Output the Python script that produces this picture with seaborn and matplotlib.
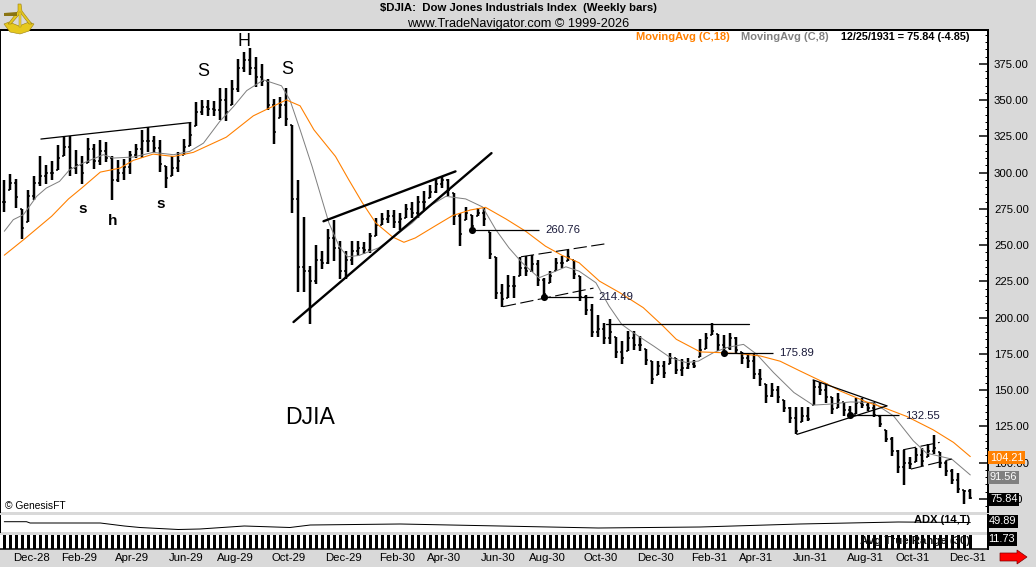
import numpy as np
import pandas as pd
import matplotlib
matplotlib.use('Agg')
import matplotlib.pyplot as plt
from matplotlib.patches import Polygon
from matplotlib.ticker import MultipleLocator, NullLocator
from matplotlib.transforms import ScaledTranslation
import seaborn as sns

# --------------------------
# Weekly bars
# --------------------------
highs = [
    295.2, 299.3, 295.6, 275.0, 287.8, 297.5, 311.7, 305.0, 308.0, 319.0,
    324.5, 325.4, 315.8, 311.2, 323.9, 320.0, 322.3, 321.3, 311.7, 308.5,
    309.4, 314.7, 320.0, 329.1, 331.4, 325.4, 322.7, 304.4, 311.2, 314.0,
    323.2, 334.6, 348.9, 349.8, 349.8, 349.1, 358.3, 358.3, 364.0, 378.2,
    383.5, 385.8, 380.0, 374.8, 364.5, 350.7, 352.1, 358.3, 333.0, 295.2,
    269.5, 235.5, 250.4, 245.8, 261.3, 267.6, 252.7, 245.8, 252.7, 252.7,
    252.0, 258.5, 268.8, 272.3, 274.5, 274.5, 272.3, 278.7, 279.6, 284.2,
    287.1, 291.7, 296.4, 297.9, 295.7, 286.0, 272.3, 276.4, 271.1, 275.7,
    276.4, 258.9, 242.0, 222.9, 229.3, 228.6, 242.0, 242.4, 242.9, 240.1,
    227.5, 232.1, 241.3, 242.4, 246.5, 240.1, 228.6, 215.4, 209.2, 201.6,
    196.1, 198.8, 186.9, 183.9, 190.8, 190.8, 187.3, 178.2, 170.1, 170.1,
    170.1, 175.4, 172.5, 171.8, 172.5, 170.8, 185.6, 189.7, 196.6, 188.5,
    187.8, 189.2, 186.9, 176.4, 174.8, 174.8, 164.4, 154.1, 154.8, 152.9,
    143.3, 138.1, 138.5, 138.5, 138.5, 157.1, 155.7, 155.3, 145.0, 147.9,
    141.9, 139.2, 144.5, 144.5, 141.9, 141.9, 131.9, 122.7, 117.4, 108.9,
    108.9, 104.1, 109.9, 109.9, 112.8, 119.0, 107.5, 101.3, 95.6, 92.7,
    81.4, 81.9,
]
lows = [
    272.7, 287.8, 275.7, 254.4, 265.8, 281.4, 291.0, 292.4, 295.2, 301.6,
    311.7, 297.5, 298.8, 292.4, 306.7, 302.5, 305.3, 307.1, 280.9, 293.3,
    295.2, 298.8, 310.1, 310.1, 314.0, 313.5, 300.2, 289.2, 297.9, 300.7,
    312.4, 318.6, 331.9, 339.9, 339.2, 339.2, 336.5, 335.3, 346.8, 355.3,
    369.7, 367.4, 359.4, 359.9, 342.9, 320.0, 337.6, 331.9, 272.2, 217.4,
    217.9, 195.4, 222.9, 233.7, 236.7, 239.4, 226.9, 226.4, 236.0, 242.4,
    243.6, 244.3, 256.2, 264.2, 265.4, 261.9, 260.8, 268.8, 268.8, 268.8,
    274.5, 282.6, 286.0, 289.5, 283.7, 264.2, 249.3, 267.6, 259.6, 269.9,
    263.0, 240.6, 213.1, 207.6, 213.8, 213.8, 228.6, 228.6, 231.4, 221.8,
    212.6, 224.1, 232.1, 234.4, 238.9, 226.4, 211.4, 201.6, 186.5, 186.5,
    181.6, 181.6, 172.5, 168.4, 177.0, 177.7, 177.0, 167.2, 154.6, 160.5,
    158.2, 167.9, 161.0, 159.8, 164.4, 165.6, 172.9, 178.2, 187.8, 177.0,
    174.8, 177.7, 175.4, 168.4, 165.6, 158.0, 152.9, 141.5, 145.0, 141.5,
    135.3, 127.3, 119.5, 127.8, 128.5, 139.7, 146.6, 141.5, 133.5, 137.4,
    132.3, 130.5, 133.5, 137.4, 135.7, 131.2, 124.3, 114.4, 104.8, 92.9,
    84.6, 95.6, 100.7, 97.9, 103.7, 105.9, 96.1, 90.6, 85.3, 78.9,
    71.5, 74.9,
]
closes = [
    280, 293, 283, 262, 284, 293, 298, 300, 300, 310,
    318, 303, 305, 300, 316, 308, 315, 310, 295, 300,
    304, 312, 316, 322, 322, 317, 306, 296, 303, 308,
    318, 326, 342, 345, 344, 343, 350, 342, 358, 372,
    378, 372, 366, 363, 347, 328, 347, 337, 282, 235,
    232, 225, 240, 238, 255, 248, 232, 240, 246, 248,
    247, 256, 264, 268, 270, 266, 268, 275, 272, 280,
    280, 287, 292, 295, 288, 270, 258, 272, 263, 272,
    268, 244, 217, 213, 222, 222, 234, 232, 237, 226,
    216, 229, 238, 238, 242, 230, 214, 205, 190, 192,
    186, 190, 176, 172, 186, 181, 181, 171, 158, 167,
    162, 172, 164, 165, 168, 167, 178, 186, 191, 181,
    179, 186, 178, 172, 170, 161, 158, 146, 150, 145,
    138, 131, 122, 132, 130, 152, 150, 145, 137, 143,
    136, 133, 141, 140, 138, 133, 127, 116, 108, 97,
    100, 99, 105, 101, 108, 110, 100, 94, 88, 82,
    80.69, 75.84,
]

# --------------------------
# Moving averages (week, value)
# --------------------------
ma18_weeks = [0, 3.4, 7.9, 10.7, 12.9, 16, 19.3, 21.5, 24.8, 28.2, 31.5, 37, 41.5, 47, 49.3,
              51.6, 55.2, 57.4, 59.7, 61.9, 64.7, 66.6, 68.5, 71.9, 74.7, 77.7, 80.2, 83.6,
              86.9, 90.2, 93, 95.8, 99.2, 102.6, 106.5, 109.8, 112, 116, 119.3, 122.6, 126,
              129.3, 132.6, 137, 139.3, 143.7, 146.5, 150.4, 154.8, 158.2, 161]
ma18_values = [243.1, 254.4, 270.0, 281.9, 289.4, 300.4, 303.2, 308.5, 312.8, 311.2, 314.0, 324.5,
               339.2, 350.2, 346.1, 329.6, 311.2, 295.2, 279.1, 265.4, 255.7, 252.0, 255.0, 263.5,
               270.4, 274.3, 276.1, 268.1, 259.6, 249.3, 242.9, 237.9, 225.2, 217.2, 206.9, 194.2,
               185.1, 176.4, 175.9, 175.2, 173.6, 170.0, 163.3, 154.6, 149.5, 141.9, 138.1, 131.9,
               122.7, 114.0, 104.21]
ma8_weeks = [0, 1.5, 3.2, 5.4, 7, 9.2, 10.9, 13.2, 16.5, 18.2, 21.5, 24.8, 28.2, 30.9, 33.2, 35.9,
             38.2, 40.4, 43.2, 46.2, 47.6, 49.3, 51.3, 54.1, 55.8, 57.2, 59.1, 62.4, 64.7, 68,
             70.8, 73.6, 76.9, 79.7, 81.9, 84.1, 86.3, 89.1, 91.9, 93.6, 95.8, 98.6, 100.8, 102.9,
             104.8, 108.2, 111, 113.7, 115.7, 118.2, 120.4, 123.2, 125.4, 128.2, 131.6, 134.8,
             137.6, 141, 144.8, 148.2, 151.5, 153.7, 157.9, 161]
ma8_values = [259.6, 267.6, 271.1, 283.7, 289.4, 294.0, 302.1, 306.7, 312.4, 310.1, 310.8, 314.0,
              312.4, 314.7, 320.4, 335.3, 345.6, 356.6, 364.0, 359.9, 350.2, 329.6, 304.3, 265.4,
              249.3, 242.0, 242.9, 248.2, 255.0, 265.4, 276.8, 283.7, 281.9, 276.4, 260.8, 248.2,
              237.9, 227.5, 232.1, 235.1, 232.1, 224.1, 208.0, 195.4, 189.7, 180.5, 172.5, 169.0,
              170.1, 175.9, 179.4, 181.6, 174.8, 162.2, 148.4, 139.7, 140.4, 141.9, 141.5, 132.3,
              115.1, 106.6, 102.5, 91.56]

# lower panels
adx_weeks = [0, 3.7, 4.3, 16, 20, 22.6, 29, 32.6, 40, 47.6, 51, 66, 82.6, 99, 116, 132.6, 149, 161]
adx_values = [51.6, 51.6, 49, 49, 43, 40, 36, 37, 43, 40, 45, 47, 43, 39, 41, 47, 51, 49.89]
atr_last = 11.73

# --------------------------
# Hand drawn studies on the chart (week, price)
# --------------------------
solid_lines = [
    ('neckline', [6.1, 31.1], [323.2, 334.6], 0.9),
    ('wedge_top', [53.2, 75.2], [266.5, 300.9], 1.7),
    ('wedge_bottom', [48.2, 81.2], [197.0, 313.5], 1.7),
    ('resistance', [100.3, 124.1], [195.9, 195.9], 0.9),
    ('triangle_top', [134.8, 147.1], [157.1, 139.2], 0.9),
    ('triangle_bottom', [132.1, 147.1], [119.5, 139.2], 0.9),
]
dashed_lines = [
    ('channel_top', [86.1, 100.1], [242.0, 250.9]),
    ('channel_bottom', [83.1, 98.2], [207.6, 220.4]),
    ('box_top', [149.8, 155.9], [108.9, 114.0]),
    ('box_bottom', [151.1, 157.9], [95.6, 102.5]),
]
pivot_weeks = [78, 90, 120, 141]
pivot_ends = [89.1, 98.1, 128.1, 149.2]
pivot_prices = [260.76, 214.49, 175.89, 132.55]

W, H = 1036, 567
DPI = 100
BG = '#d9d9d9'
ORANGE = '#ff8000'
GRAY = '#808080'
FONT = 'Liberation Sans'
TICK_SIZE = 8.2
TAG_SIZE = 7.9
PX = 72 / DPI  # one pixel in points


def px_box(left, top, right, bottom):
    return [left / W, 1 - bottom / H, (right - left) / W, (bottom - top) / H]


def px_text(fig, x, y, s, **kw):
    kw.setdefault('va', 'center')
    kw.setdefault('color', 'black')
    return fig.text(x / W, 1 - y / H, s, **kw)


def px_poly(fig, points, **kw):
    pts = [(x / W, 1 - y / H) for x, y in points]
    fig.add_artist(Polygon(pts, closed=True, transform=fig.transFigure, **kw))


def style_spines(ax, left=True, top=False, bottom=False):
    ax.spines['right'].set_visible(True)
    ax.spines['right'].set_linewidth(2 * PX)
    ax.spines['right'].set_color('black')
    for side, shown, width in [('left', left, 1), ('top', top, 2), ('bottom', bottom, 1.5)]:
        ax.spines[side].set_visible(shown)
        ax.spines[side].set_linewidth(width * PX)
        ax.spines[side].set_color('black')


# --------------------------
# Main price panel
# --------------------------
def draw_price_panel(ax):
    weeks = np.arange(len(highs))
    bars = pd.DataFrame({'week': np.r_[weeks, weeks], 'price': np.r_[lows, highs]})
    sns.lineplot(data=bars, x='week', y='price', units='week', estimator=None, color='black',
                 linewidth=2.5 * PX, solid_capstyle='butt', legend=False, ax=ax, zorder=3)

    opens = np.clip(np.r_[closes[0], closes[:-1]], lows, highs)
    ax.hlines(closes, weeks, weeks + 0.34, color='black', linewidth=1.5 * PX, zorder=3)
    ax.hlines(opens, weeks - 0.34, weeks, color='black', linewidth=1.5 * PX, zorder=3)

    sns.lineplot(x=ma8_weeks, y=ma8_values, color=GRAY, linewidth=1 * PX, estimator=None, ax=ax, zorder=4)
    sns.lineplot(x=ma18_weeks, y=ma18_values, color=ORANGE, linewidth=1.1 * PX, estimator=None, ax=ax, zorder=4)

    for name, xs, ys, width in solid_lines:
        ax.plot(xs, ys, color='black', linewidth=width, zorder=5)
    for name, xs, ys in dashed_lines:
        ax.plot(xs, ys, color='black', linewidth=0.8, linestyle=(0, (12, 4)), zorder=5)

    sns.scatterplot(x=pivot_weeks, y=pivot_prices, color='black', s=26, linewidth=0, ax=ax, zorder=6)
    ax.hlines(pivot_prices, pivot_weeks, pivot_ends, color='black', linewidth=0.9, zorder=5)

    ax.set_xlim(-4.3 / 6, (988 - 4.3) / 6)
    ax.set_ylim(66.0, 398.4)
    ax.set_xlabel('')
    ax.set_ylabel('')
    ax.xaxis.set_major_locator(NullLocator())
    ax.yaxis.tick_right()
    ax.yaxis.set_major_locator(MultipleLocator(25))
    ax.yaxis.set_minor_locator(MultipleLocator(5))
    ax.yaxis.set_major_formatter(lambda v, pos: f'{v:.2f}')
    ax.tick_params(axis='y', which='major', direction='in', length=9 * PX, width=1.5 * PX,
                   pad=6 * PX, labelsize=TICK_SIZE, labelcolor='black', color='black')
    ax.tick_params(axis='y', which='minor', direction='in', length=3.5 * PX, width=1 * PX, color='black')
    style_spines(ax, top=True)

    # last value tags, on the price scale
    trans = ax.get_yaxis_transform()
    for value, offset, face in [(ma18_values[-1], -0.8, ORANGE), (ma8_values[-1], -1.6, GRAY), (closes[-1], -1.0, 'black')]:
        ax.text(1.002, value + offset, f'{value:.2f}', transform=trans, va='center', ha='left', fontsize=TAG_SIZE,
                color='white', zorder=20, clip_on=False,
                bbox=dict(boxstyle='square,pad=0.14', facecolor=face, edgecolor='none'))


# --------------------------
# ADX and ATR strips
# --------------------------
def draw_lower_panels(ax_adx, ax_atr):
    sns.lineplot(x=adx_weeks, y=adx_values, color='black', linewidth=1 * PX, estimator=None, ax=ax_adx)
    ax_adx.set_ylim(31, 65)

    weeks = np.arange(len(highs))
    atr = pd.DataFrame({'week': weeks, 'atr': np.full(len(weeks), atr_last)})
    sns.barplot(data=atr, x='week', y='atr', native_scale=True, color='black', width=0.42,
                saturation=1, linewidth=0, ax=ax_atr)
    ax_atr.set_ylim(0, atr_last)

    dates = pd.date_range('1928-11-23', '1931-12-25', freq='7D')
    first_bars = [i for i, d in enumerate(dates) if d.day <= 7 and d.month % 2 == 0]
    ax_atr.set_xticks(first_bars)
    ax_atr.set_xticklabels([dates[i].strftime('%b-%y') for i in first_bars], ha='left', fontsize=TICK_SIZE, color='black')
    ax_atr.tick_params(axis='x', length=0, pad=3)
    shift = ScaledTranslation(-3 / DPI, 0, ax_atr.figure.dpi_scale_trans)
    for label in ax_atr.get_xticklabels():
        label.set_transform(label.get_transform() + shift)

    for ax in (ax_adx, ax_atr):
        ax.set_xlim(-4.3 / 6, (988 - 4.3) / 6)
        ax.set_xlabel('')
        ax.set_ylabel('')
        ax.yaxis.set_major_locator(NullLocator())
    ax_adx.xaxis.set_major_locator(NullLocator())
    style_spines(ax_adx)
    style_spines(ax_atr, left=False, bottom=True)


# --------------------------
# Header, notes, logo, arrow
# --------------------------
def draw_decorations(fig):
    px_text(fig, 518.5, 8, r'\$DJIA:  Dow Jones Industrials Index  (Weekly bars)', ha='center', fontsize=8.2, fontweight='bold')
    px_text(fig, 518.5, 24, 'www.TradeNavigator.com © 1999-2026', ha='center', fontsize=9.15)
    px_text(fig, 636, 37, 'MovingAvg (C,18)', color=ORANGE, fontsize=8, fontweight='bold')
    px_text(fig, 741, 37, 'MovingAvg (C,8)', color=GRAY, fontsize=8, fontweight='bold')
    px_text(fig, 841, 37, '12/25/1931 = 75.84 (-4.85)', fontsize=7.85, fontweight='bold')

    for x, y, s, size, weight in [(203, 72, 'S', 13, 'normal'), (244, 41, 'H', 13, 'normal'), (287, 70, 'S', 13, 'normal'),
                                  (83, 209, 's', 11, 'bold'), (113, 221, 'h', 11, 'bold'), (161, 204, 's', 11, 'bold'),
                                  (310, 417, 'DJIA', 16.6, 'normal')]:
        px_text(fig, x, y, s, ha='center', fontsize=size, fontweight=weight)
    px_text(fig, 5, 506, '© GenesisFT', fontsize=7.4)

    for x, y, s in [(545, 230, '260.76'), (598, 297, '214.49'), (779, 353, '175.89'), (905, 416, '132.55')]:
        px_text(fig, x, y, s, fontsize=TICK_SIZE, color='#1a1a3a')

    px_text(fig, 914, 520, 'ADX (14,T)', fontsize=8, fontweight='bold')
    px_text(fig, 970, 541, 'Avg True Range (30)', ha='right', fontsize=8.2, fontweight='bold', color='#111111')
    for x, y, s in [(988.5, 521.5, '49.89'), (988.5, 539, '11.73')]:
        px_text(fig, x, y, s, fontsize=TAG_SIZE, color='white', zorder=20,
                bbox=dict(boxstyle='square,pad=0.14', facecolor='black', edgecolor='none'))

    # sextant logo: arc, two arms, telescope
    gold, dark = '#e6c81e', '#9a7f10'
    px_poly(fig, [(4, 24), (9, 22), (19, 26), (29, 22), (34, 24), (29, 31), (20, 34), (10, 32)],
            facecolor=gold, edgecolor=dark, linewidth=0.4)
    px_poly(fig, [(18, 4), (21, 4), (22, 11), (32, 24), (29, 24), (20.5, 13), (11, 24), (8, 24), (18, 11)],
            facecolor=gold, edgecolor=dark, linewidth=0.4)
    px_poly(fig, [(18.5, 12), (21, 12), (21, 27), (18.5, 27)], facecolor='#f0d83c', edgecolor=dark, linewidth=0.3)
    px_poly(fig, [(4, 13), (17, 12), (17, 16), (4, 16)], facecolor='#8a7412', edgecolor='none')

    # scroll arrow
    px_poly(fig, [(1000, 553), (1017, 553), (1017, 550), (1027, 557), (1017, 564), (1017, 561), (1000, 561)],
            facecolor='#ff0000', edgecolor='#800000', linewidth=0.5)


def main():
    sns.set_theme(style='ticks', rc={'figure.facecolor': BG, 'axes.facecolor': 'white'})
    plt.rcParams['font.family'] = [FONT, 'DejaVu Sans']

    fig = plt.figure(figsize=(W / DPI, H / DPI), dpi=DPI, facecolor=BG)
    ax_price = fig.add_axes(px_box(0, 30, 988, 512))
    ax_adx = fig.add_axes(px_box(0, 515, 988, 532))
    ax_atr = fig.add_axes(px_box(0, 535, 988, 549))

    draw_price_panel(ax_price)
    draw_lower_panels(ax_adx, ax_atr)
    draw_decorations(fig)

    fig.savefig('out.png', dpi=DPI, facecolor=BG)


if __name__ == '__main__':
    main()
